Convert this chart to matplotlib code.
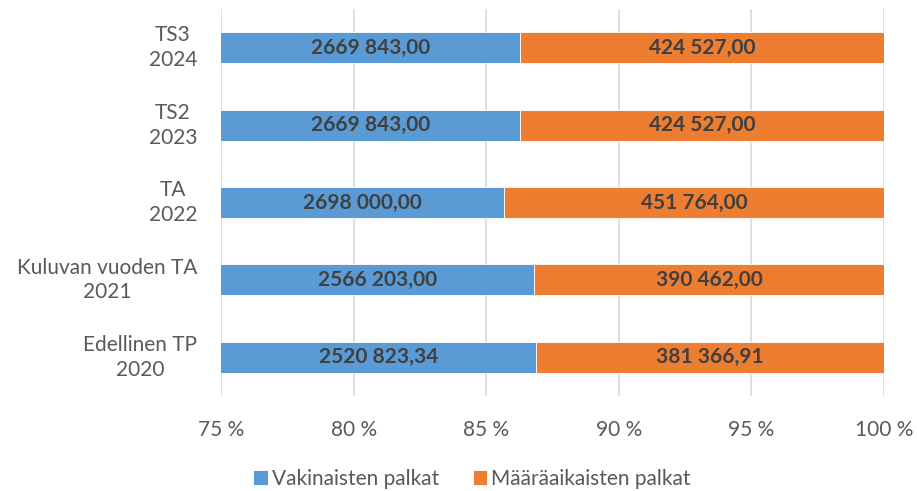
import numpy as np
import matplotlib.pyplot as plt
from matplotlib.transforms import offset_copy

plt.rcParams['font.family'] = ['Lato', 'DejaVu Sans']

categories = ['Edellinen TP\n2020', 'Kuluvan vuoden TA\n2021', 'TA\n2022', 'TS2\n2023', 'TS3\n2024']
vakinaiset = [2520823.34, 2566203.00, 2698000.00, 2669843.00, 2669843.00]
maaraaik = [381366.91, 390462.00, 451764.00, 424527.00, 424527.00]
vak_labels = ['2520 823,34', '2566 203,00', '2698 000,00', '2669 843,00', '2669 843,00']
maa_labels = ['381 366,91', '390 462,00', '451 764,00', '424 527,00', '424 527,00']
ticks = [75, 80, 85, 90, 95, 100]

vak = np.array(vakinaiset)
maa = np.array(maaraaik)
tot = vak + maa
p1 = vak / tot * 100
p2 = maa / tot * 100

fig = plt.figure(figsize=(9.17, 4.91), dpi=100)
ax = fig.add_axes([221/917, 1-396/491, (884-221)/917, 387/491])

y = np.arange(len(categories))
blue = '#5B9BD5'
orange = '#ED7D31'
ax.barh(y, p1, height=0.4, color=blue, edgecolor='white', linewidth=0.6, label='Vakinaisten palkat', zorder=3)
ax.barh(y, p2, left=p1, height=0.4, color=orange, edgecolor='white', linewidth=0.6, label='Määräaikaisten palkat', zorder=3)

for i in range(len(y)):
    ax.text((75 + p1[i]) / 2, y[i], vak_labels[i], ha='center', va='center',
            fontsize=15, fontweight='bold', color='#404040', zorder=4)
    ax.text((p1[i] + 100) / 2, y[i], maa_labels[i], ha='center', va='center',
            fontsize=15, fontweight='bold', color='#404040', zorder=4)

ax.set_xlim(75, 100)
ax.set_ylim(-0.5, len(categories) - 0.5)
ax.set_xticks(ticks)
ax.set_xticklabels([f'{t} %' for t in ticks])
ax.set_yticks(y)
ax.set_yticklabels([])
ax.xaxis.grid(True, color='#D9D9D9', linewidth=1.2, zorder=0)
for s in ax.spines.values():
    s.set_visible(False)
ax.tick_params(axis='both', length=0, labelsize=15, colors='#595959')
ax.tick_params(axis='x', pad=17)

# category labels: block right-aligned, lines centered
trans = offset_copy(ax.get_yaxis_transform(), fig=fig, x=-24, y=0, units='dots')
for i, c in enumerate(categories):
    ax.text(0, y[i], c, transform=trans, ha='right', va='center', multialignment='center',
            fontsize=15, color='#595959', linespacing=1.3)

fig.legend(loc='center', bbox_to_anchor=(472/917, 1-479/491), ncol=2, frameon=False,
           fontsize=15, handlelength=0.7, handleheight=0.7, handletextpad=0.2, columnspacing=1.6,
           labelcolor='#595959', borderpad=0)

fig.savefig('out.png', dpi=100)
